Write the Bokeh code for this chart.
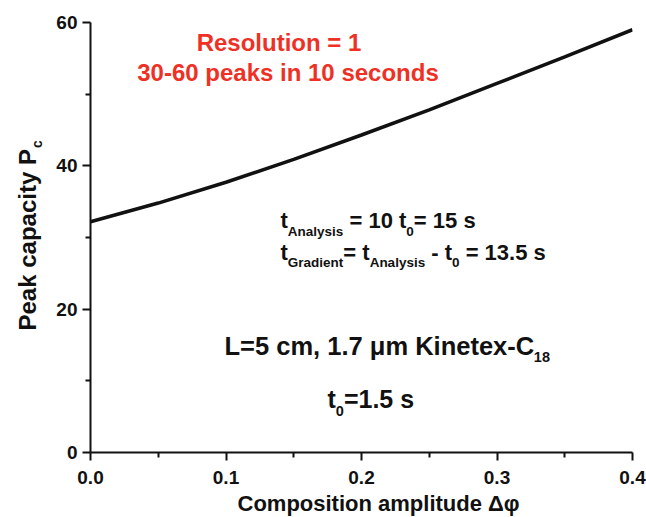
import math

from bokeh.plotting import figure
from bokeh.models import Range1d, FixedTicker, NumeralTickFormatter, Label
from bokeh.embed import file_html
from bokeh.resources import INLINE

# Peak capacity versus composition amplitude
amplitude = [0.0, 0.05, 0.1, 0.15, 0.2, 0.25, 0.3, 0.35, 0.4]
peak_capacity = [32.2, 34.8, 37.7, 40.9, 44.3, 47.8, 51.5, 55.2, 59.0]

x_ticks = [0.0, 0.1, 0.2, 0.3, 0.4]
x_minor = [0.05, 0.15, 0.25, 0.35]
y_ticks = [0, 20, 40, 60]
y_minor = [10, 30, 50]

FONT = "Liberation Sans"
RED = "#ee3124"
INK = "#111111"

W, H = 646, 517
LEFT, RIGHT, TOP, BOTTOM = 90, 632, 22, 452
X0, X1, Y0, Y1 = 0.0, 0.4, 0.0, 60.0

# a label's anchor sits this fraction of its font size above the baseline
BASELINE_LIFT = 0.345

p = figure(width=W, height=H, output_backend="svg", toolbar_location=None,
           x_range=Range1d(X0, X1), y_range=Range1d(Y0, Y1),
           min_border_left=LEFT, min_border_right=W - RIGHT,
           min_border_top=TOP, min_border_bottom=H - BOTTOM)
p.outline_line_color = None
p.grid.visible = False
p.background_fill_color = "white"
p.border_fill_color = "white"

p.line(amplitude, peak_capacity, line_width=3.6, line_color=INK)

p.xaxis.ticker = FixedTicker(ticks=x_ticks, minor_ticks=x_minor)
p.yaxis.ticker = FixedTicker(ticks=y_ticks, minor_ticks=y_minor)
p.xaxis.formatter = NumeralTickFormatter(format="0.0")
p.yaxis.formatter = NumeralTickFormatter(format="0")
for ax in (p.xaxis, p.yaxis):
    ax.axis_line_width = 2
    ax.axis_line_color = INK
    ax.major_tick_line_width = 2
    ax.minor_tick_line_width = 2
    ax.major_tick_line_color = INK
    ax.minor_tick_line_color = INK
    ax.major_tick_in = 0
    ax.minor_tick_in = 0
    ax.major_tick_out = 8
    ax.minor_tick_out = 5
    ax.major_label_text_font = FONT
    ax.major_label_text_font_style = "bold"
    ax.major_label_text_font_size = "19px"
    ax.major_label_text_color = INK
p.xaxis.major_label_standoff = 10
p.yaxis.major_label_standoff = 5

# Arial-metric bold advance widths (per 1000 em) used to chain text pieces
ADV = {" ": 278, "-": 333, ".": 278, ",": 278, "=": 584,
       "A": 722, "C": 722, "G": 778, "K": 722, "L": 611, "P": 667, "R": 722,
       "a": 556, "c": 556, "d": 611, "e": 556, "i": 278, "k": 556, "l": 278,
       "m": 889, "n": 611, "o": 611, "p": 611, "r": 389, "s": 556, "t": 333,
       "u": 611, "x": 556, "y": 556, "\u03bc": 600}


def text_width(s, size):
    return sum(ADV.get(ch, 556) for ch in s) * size / 1000.0


def dx(px):
    return X0 + (px - LEFT) * (X1 - X0) / (RIGHT - LEFT)


def dy(py):
    return Y0 + (BOTTOM - py) * (Y1 - Y0) / (BOTTOM - TOP)


def label(s, px, py, size, color=INK, align="left", vertical=False, place=None):
    # (px, py): start of the text on its baseline, in canvas pixels
    lift = BASELINE_LIFT * size
    if vertical:
        ax_, ay_, angle = px - lift, py, math.pi / 2
    else:
        ax_, ay_, angle = px, py - lift, 0.0
    lab = Label(x=dx(ax_), y=dy(ay_), text=s, text_font=FONT,
                text_font_style="bold", text_font_size=f"{size}px",
                text_color=color, text_align=align,
                text_baseline="alphabetic", angle=angle)
    if place is None:
        p.add_layout(lab)
    else:
        p.add_layout(lab, place)


def run(pieces, px, py):
    # pieces: (text, font size, baseline drop in px); leading blanks become offsets
    for s, size, drop in pieces:
        body = s.lstrip(" ")
        px += text_width(s[:len(s) - len(body)], size)
        label(body, px, py + drop, size)
        px += text_width(body, size)


# red headline
label("Resolution = 1", 278.5, 50, 24, color=RED, align="center")
label("30-60 peaks in 10 seconds", 287.5, 80, 24, color=RED, align="center")

# timing annotations
run([("t", 22, 0), ("Analysis", 13.5, 8), (" = 10 t", 22, 0), ("0", 13.5, 8),
     ("= 15 s", 22, 0)], 280, 228)
run([("t", 22, 0), ("Gradient", 13.5, 7), ("= t", 22, 0), ("Analysis", 13.5, 7),
     (" - t", 22, 0), ("0", 13.5, 7), (" = 13.5 s", 22, 0)], 280, 260)

# column description
run([("L=5 cm, 1.7 \u03bcm Kinetex-C", 25.5, 0), ("18", 14.5, 8)], 224, 354)
run([("t", 25, 0), ("0", 14.5, 9), ("=1.5 s", 25, 0)], 327, 407)

# axis titles, kept in the side panels so they sit outside the frame
label("Composition amplitude \u0394\u03c6", 237, 511, 22, place="below")
label("c", 41, 330 - text_width("Peak capacity P", 24) - 1, 14,
      vertical=True, place="left")
label("Peak capacity P", 35, 330, 24, vertical=True, place="left")

open("out.html", "w").write(file_html(p, INLINE))
